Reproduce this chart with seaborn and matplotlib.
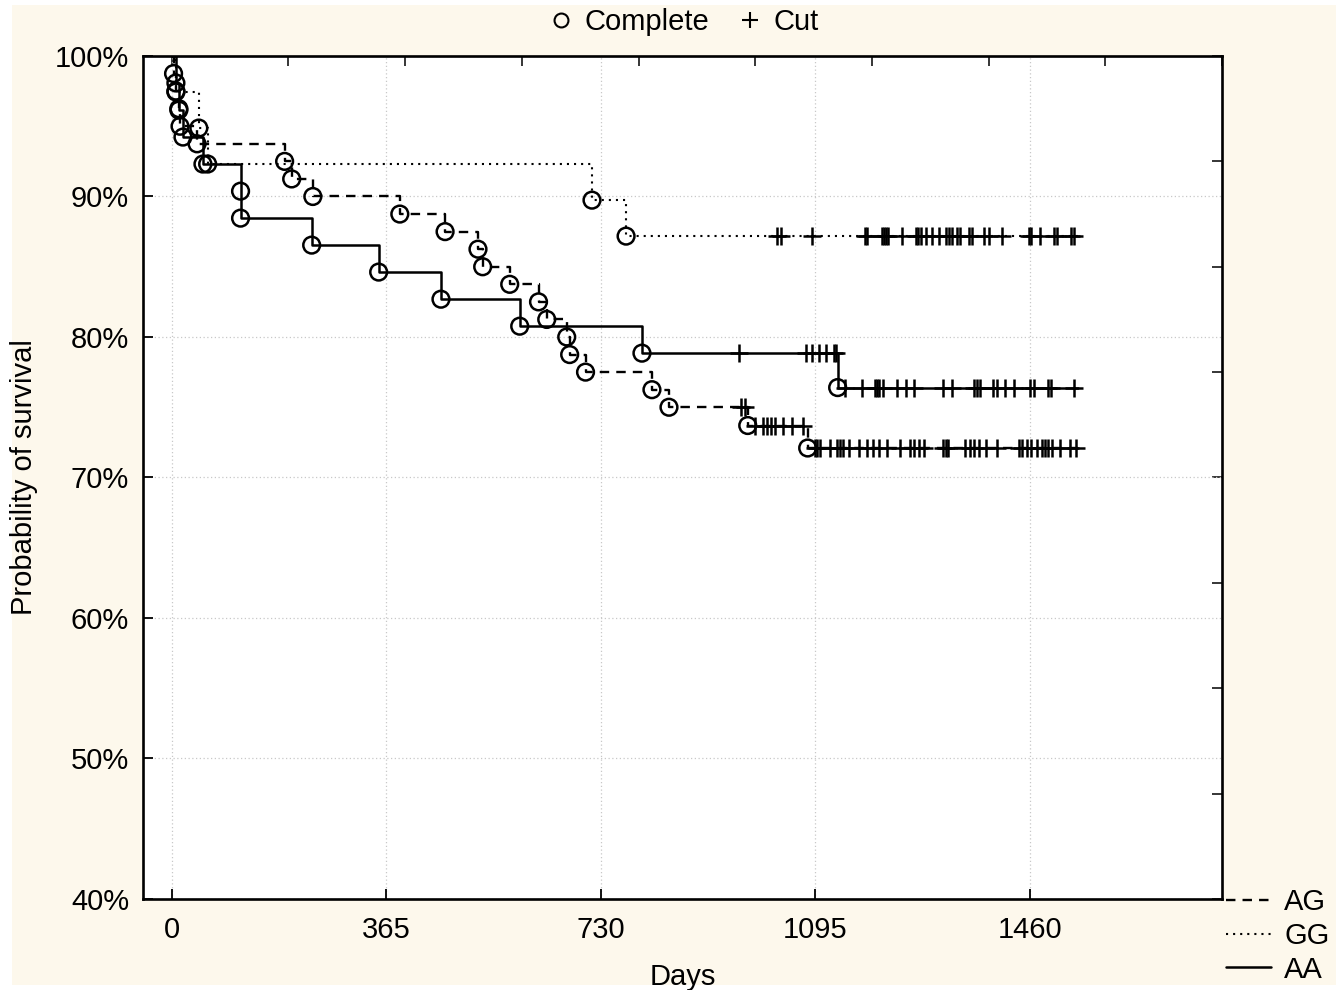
import numpy as np
import pandas as pd
import matplotlib
matplotlib.use("Agg")
import matplotlib.pyplot as plt
import seaborn as sns
from matplotlib.lines import Line2D
from matplotlib.patches import Rectangle
from matplotlib.ticker import FuncFormatter

# Kaplan-Meier steps: event day and survival (%) after it
ag_days = [3, 7, 12, 14, 43, 192, 204, 240, 388, 465, 521, 529, 575, 624, 638,
           672, 677, 704, 817, 846, 980, 1082]
ag_surv = [98.75, 97.5, 96.25, 95.0, 93.75, 92.5, 91.25, 90.0, 88.75, 87.5, 86.25,
           85.0, 83.75, 82.5, 81.25, 80.0, 78.75, 77.5, 76.25, 75.0, 73.7, 72.1]
ag_cut = [968, 975, 992, 1006, 1012, 1019, 1026, 1040, 1055, 1074, 1094, 1098,
          1103, 1120, 1132, 1137, 1142, 1152, 1169, 1183, 1193, 1203, 1217, 1239,
          1256, 1263, 1271, 1280, 1312, 1317, 1320, 1349, 1358, 1365, 1373, 1385,
          1404, 1441, 1446, 1455, 1462, 1472, 1480, 1486, 1491, 1497, 1511, 1528, 1538]

gg_days = [7, 46, 61, 715, 773]
gg_surv = [97.44, 94.87, 92.31, 89.74, 87.18]
gg_cut = [1029, 1036, 1089, 1179, 1183, 1208, 1212, 1215, 1218, 1242, 1266, 1269,
          1275, 1283, 1293, 1305, 1317, 1322, 1327, 1336, 1341, 1356, 1361, 1382,
          1390, 1412, 1458, 1462, 1477, 1501, 1506, 1530, 1535]

aa_days = [7, 12, 19, 53, 117, 117, 238, 352, 458, 592, 800, 1133]
aa_surv = [98.08, 96.15, 94.23, 92.31, 90.38, 88.46, 86.54, 84.62, 82.69, 80.77,
           78.85, 76.4]
aa_cut = [965, 1079, 1089, 1101, 1113, 1126, 1130, 1145, 1174, 1196, 1200, 1203,
          1210, 1234, 1249, 1263, 1312, 1327, 1365, 1370, 1375, 1397, 1404, 1417,
          1433, 1460, 1467, 1491, 1496, 1535]

last_day = 1542
groups = ["AG", "GG", "AA"]
styles = {"AG": (0, (4, 3)), "GG": (0, (1, 2.4)), "AA": "-"}
widths = {"AG": 1.7, "GG": 1.5, "AA": 1.8}
x_ticks = [0, 365, 730, 1095, 1460]
y_ticks = [40, 50, 60, 70, 80, 90, 100]

data = {"AG": (ag_days, ag_surv, ag_cut),
        "GG": (gg_days, gg_surv, gg_cut),
        "AA": (aa_days, aa_surv, aa_cut)}

sns.set_style("ticks")
plt.rcParams["font.family"] = ["Liberation Sans", "DejaVu Sans"]
plt.rcParams["text.color"] = "black"
plt.rcParams["axes.labelcolor"] = "black"

fig = plt.figure(figsize=(13.44, 9.9), dpi=100, facecolor="white")
fig.patches.append(Rectangle((12 / 1344, 5 / 990), 1324 / 1344, 980 / 990,
                             transform=fig.transFigure, facecolor="#fdf8ec",
                             edgecolor="none", zorder=-10))
ax = fig.add_axes([143 / 1344, 1 - 899 / 990, 1079 / 1344, 843 / 990])
ax.set_facecolor("white")

for g in groups:
    days, surv, cut = data[g]
    line = pd.DataFrame({"day": [0] + days + [last_day],
                         "surv": [100] + surv + [surv[-1]]})
    sns.lineplot(data=line, x="day", y="surv", ax=ax, color="black",
                 drawstyle="steps-post", estimator=None, sort=False,
                 linestyle=styles[g], linewidth=widths[g], zorder=3)
    ev = pd.DataFrame({"day": days, "surv": surv})
    sns.scatterplot(data=ev, x="day", y="surv", ax=ax, marker="o", s=145,
                    facecolors="none", edgecolor="black", linewidth=1.8, zorder=4)
    # censored points sit on the curve value at that time
    idx = np.searchsorted(np.array(days), np.array(cut), side="right") - 1
    cy = [surv[i] if i >= 0 else 100 for i in idx]
    cdf = pd.DataFrame({"day": cut, "surv": cy})
    sns.scatterplot(data=cdf, x="day", y="surv", ax=ax, marker="+", s=150,
                    color="black", linewidth=1.8, zorder=4)

ax.set_xlim(-49, 1787)
ax.set_ylim(40, 100)
ax.set_xticks(x_ticks)
ax.set_yticks(y_ticks)
ax.yaxis.set_major_formatter(FuncFormatter(lambda v, p: f"{v:.0f}%"))
ax.grid(True, color="#c8c8c8", linestyle=(0, (1, 2)), linewidth=0.9)
ax.set_axisbelow(True)
ax.tick_params(direction="in", length=7, width=1.3, labelsize=21,
               colors="black", labelcolor="black")
ax.tick_params(axis="x", pad=12)
ax.tick_params(axis="y", pad=10)
for s in ax.spines.values():
    s.set_linewidth(1.9)
    s.set_color("black")

top = ax.secondary_xaxis("top")
top.set_xticks(np.linspace(0, 1787, 10))
top.set_xticklabels([])
top.tick_params(direction="in", length=7, width=1.3)
right = ax.secondary_yaxis("right")
right.set_yticks(np.linspace(40, 100, 9))
right.set_yticklabels([])
right.tick_params(direction="in", length=7, width=1.3)

ax.set_xlabel("Days", fontsize=21, labelpad=14)
ax.set_ylabel("Probability of survival", fontsize=21, labelpad=12)

mark_handles = [Line2D([], [], marker="o", ls="none", mfc="none", mec="black",
                       ms=10, mew=1.5),
                Line2D([], [], marker="+", ls="none", color="black", ms=11, mew=1.5)]
fig.legend(mark_handles, ["Complete", "Cut"], loc="center",
           bbox_to_anchor=(0.508, 0.978), ncol=2, frameon=False, fontsize=21,
           handletextpad=0.3, columnspacing=0.9, handlelength=1.0,
           borderpad=0, borderaxespad=0)

line_handles = [Line2D([], [], color="black", linestyle=styles[g],
                       linewidth=widths[g]) for g in groups]
fig.legend(line_handles, groups, loc="upper left",
           bbox_to_anchor=(1226 / 1344, 1 - 888 / 990), frameon=False,
           fontsize=21, handlelength=1.55, handletextpad=0.45, labelspacing=0.2,
           borderpad=0, borderaxespad=0)

fig.savefig("out.png", dpi=100, facecolor=fig.get_facecolor())
